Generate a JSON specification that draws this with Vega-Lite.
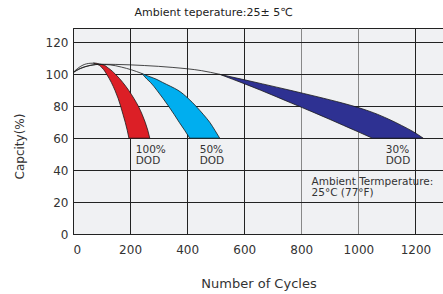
{
  "$schema": "https://vega.github.io/schema/vega-lite/v6.json",
  "width": 371,
  "height": 206,
  "autosize": {"type": "none"},
  "padding": {"left": 73, "top": 28, "right": 0, "bottom": 60},
  "background": "white",
  "config": {
    "font": "DejaVu Sans",
    "view": {"fill": "#f0f1f3", "stroke": "#222222", "strokeWidth": 1},
    "axis": {"labelFont": "DejaVu Sans", "titleFont": "DejaVu Sans", "labelColor": "#333333", "titleColor": "#333333", "titleFontWeight": "normal", "domainColor": "#222222", "ticks": false, "labelOverlap": false}
  },
  "title": {"text": "Ambient teperature:25± 5℃", "fontSize": 11, "fontWeight": "normal", "color": "#222222", "font": "DejaVu Sans", "dx": -45, "offset": 10},
  "datasets": {
    "curves": [
      {"s": "r", "c": 0, "v": 101}, {"s": "r", "c": 15, "v": 103.5}, {"s": "r", "c": 35, "v": 105.8}, {"s": "r", "c": 60, "v": 106.9}, {"s": "r", "c": 75, "v": 107},
      {"s": "b", "c": 0, "v": 101}, {"s": "b", "c": 20, "v": 103.3}, {"s": "b", "c": 50, "v": 105.2}, {"s": "b", "c": 90, "v": 106.2}, {"s": "b", "c": 130, "v": 105.9}, {"s": "b", "c": 170, "v": 104.5}, {"s": "b", "c": 205, "v": 102.8}, {"s": "b", "c": 240, "v": 100.6},
      {"s": "n", "c": 0, "v": 101}, {"s": "n", "c": 25, "v": 103.5}, {"s": "n", "c": 60, "v": 105.5}, {"s": "n", "c": 100, "v": 106.3}, {"s": "n", "c": 150, "v": 106.2}, {"s": "n", "c": 250, "v": 105.5}, {"s": "n", "c": 350, "v": 104.3}, {"s": "n", "c": 450, "v": 102.3}, {"s": "n", "c": 514, "v": 100}
    ],
    "wedges": [
      {"s": "100% DOD", "v": 107, "L": 72, "R": 80},
      {"s": "100% DOD", "v": 106, "L": 88, "R": 104},
      {"s": "100% DOD", "v": 104, "L": 102, "R": 123},
      {"s": "100% DOD", "v": 100, "L": 118, "R": 149},
      {"s": "100% DOD", "v": 95, "L": 134, "R": 174},
      {"s": "100% DOD", "v": 90, "L": 147, "R": 195},
      {"s": "100% DOD", "v": 85, "L": 158, "R": 213},
      {"s": "100% DOD", "v": 80, "L": 167, "R": 229},
      {"s": "100% DOD", "v": 75, "L": 175, "R": 242},
      {"s": "100% DOD", "v": 70, "L": 183, "R": 253},
      {"s": "100% DOD", "v": 65, "L": 190, "R": 262},
      {"s": "100% DOD", "v": 60, "L": 196, "R": 269},
      {"s": "50% DOD", "v": 100.6, "L": 240, "R": 240},
      {"s": "50% DOD", "v": 99, "L": 249, "R": 262},
      {"s": "50% DOD", "v": 97, "L": 259, "R": 291},
      {"s": "50% DOD", "v": 95, "L": 271, "R": 313},
      {"s": "50% DOD", "v": 90, "L": 294, "R": 368},
      {"s": "50% DOD", "v": 85, "L": 315, "R": 403},
      {"s": "50% DOD", "v": 80, "L": 335, "R": 431},
      {"s": "50% DOD", "v": 75, "L": 354, "R": 456},
      {"s": "50% DOD", "v": 70, "L": 372, "R": 479},
      {"s": "50% DOD", "v": 65, "L": 391, "R": 497},
      {"s": "50% DOD", "v": 60, "L": 409, "R": 514},
      {"s": "30% DOD", "v": 100, "L": 514, "R": 514},
      {"s": "30% DOD", "v": 97, "L": 558, "R": 590},
      {"s": "30% DOD", "v": 94, "L": 602, "R": 664},
      {"s": "30% DOD", "v": 90, "L": 658, "R": 761},
      {"s": "30% DOD", "v": 86, "L": 712, "R": 855},
      {"s": "30% DOD", "v": 82, "L": 765, "R": 944},
      {"s": "30% DOD", "v": 79, "L": 805, "R": 1003},
      {"s": "30% DOD", "v": 76, "L": 845, "R": 1052},
      {"s": "30% DOD", "v": 72, "L": 897, "R": 1105},
      {"s": "30% DOD", "v": 68, "L": 948, "R": 1151},
      {"s": "30% DOD", "v": 64, "L": 999, "R": 1193},
      {"s": "30% DOD", "v": 60, "L": 1049, "R": 1227}
    ],
    "labels": [
      {"c": 220, "v": 55.7, "t": "100%\nDOD"},
      {"c": 444, "v": 55.7, "t": "50%\nDOD"},
      {"c": 1096, "v": 55.7, "t": "30%\nDOD"},
      {"c": 836, "v": 35.9, "t": "Ambient Termperature:\n25°C (77°F)"}
    ]
  },
  "encoding": {
    "y": {"type": "quantitative", "scale": {"domain": [0, 129], "nice": false},
          "axis": {"values": [0, 20, 40, 60, 80, 100, 120], "title": "Capcity(%)", "labelFontSize": 12, "labelPadding": 5, "titleFontSize": 12, "titleX": -54, "titleY": 118, "titleAngle": -90, "titleBaseline": "middle",
                   "gridColor": "#222222", "gridOpacity": 1, "gridWidth": 1}},
    "x": {"type": "quantitative", "scale": {"domain": [0, 1300], "nice": false},
          "axis": {"values": [0, 200, 400, 600, 800, 1000, 1200], "format": "d", "title": "Number of Cycles", "labelFontSize": 12, "labelPadding": 10, "titleFontSize": 13, "titlePadding": 22,
                   "gridOpacity": 1, "gridWidth": 1,
                   "gridColor": {"condition": {"test": "datum.value == 800 || datum.value == 1000", "value": "#888888"}, "value": "#222222"}}}
  },
  "layer": [
    {
      "data": {"name": "wedges"},
      "mark": {"type": "area", "orient": "horizontal", "interpolate": "monotone", "stroke": "#1a1a1a", "strokeWidth": 0.8},
      "encoding": {
        "y": {"field": "v", "type": "quantitative"},
        "x": {"field": "L", "type": "quantitative", "stack": null},
        "x2": {"field": "R"},
        "color": {"field": "s", "type": "nominal", "scale": {"domain": ["100% DOD", "50% DOD", "30% DOD"], "range": ["#dc1f26", "#00aeef", "#2e3192"]}, "legend": null}
      }
    },
    {
      "data": {"name": "curves"},
      "mark": {"type": "line", "interpolate": "monotone", "stroke": "#1a1a1a", "strokeWidth": 0.8},
      "encoding": {
        "x": {"field": "c", "type": "quantitative"},
        "y": {"field": "v", "type": "quantitative"},
        "detail": {"field": "s", "type": "nominal"}
      }
    },
    {
      "data": {"name": "labels"},
      "mark": {"type": "text", "align": "left", "baseline": "top", "lineBreak": "\n", "fontSize": 10.5, "lineHeight": 11, "color": "#333333", "font": "DejaVu Sans"},
      "encoding": {
        "x": {"field": "c", "type": "quantitative"},
        "y": {"field": "v", "type": "quantitative"},
        "text": {"field": "t"}
      }
    }
  ]
}
